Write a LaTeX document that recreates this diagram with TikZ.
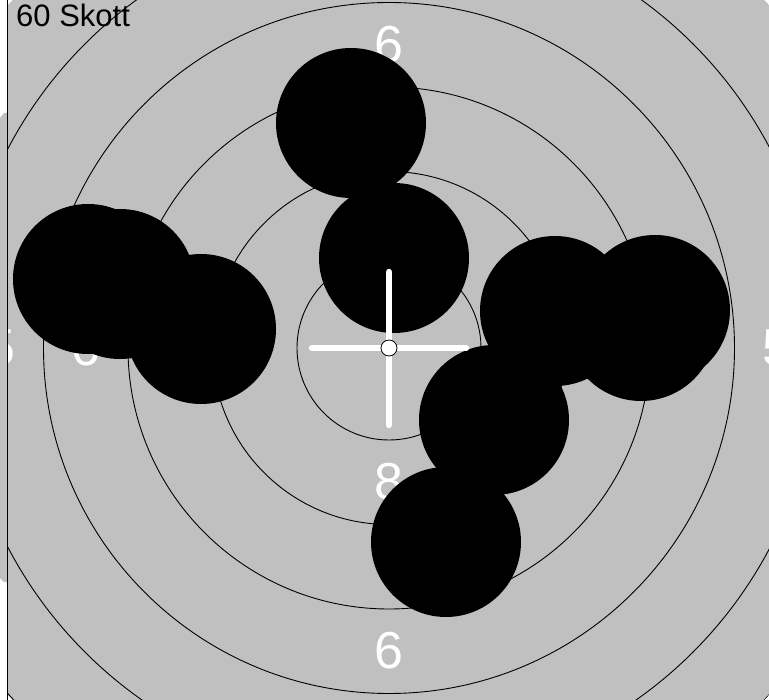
\documentclass[tikz,border=0pt]{standalone}
\usepackage{fontspec}
\setmainfont{Liberation Sans}
\definecolor{tgray}{HTML}{C0C0C0}
\begin{document}
\begin{tikzpicture}[x=1pt,y=-1pt,
  ring/.style={draw=black, line width=0.9pt},
  lbl/.style={text=white, font=\fontsize{52}{52}\selectfont, inner sep=0pt},
  shot/.style={fill=black},
  cross/.style={draw=white, line width=6.5pt, line cap=round}]
\useasboundingbox (0,0) rectangle (769,700);
\fill[white] (0,0) rectangle (769,700);
\fill[tgray] (0,118) -- (4,113) -- (7,113) -- (7,582) -- (4,582) -- (0,578) -- cycle;
\begin{scope}
\clip (8,5) -- (13,0) -- (764,0) -- (769,5) -- (769,695) -- (764,700) -- (13,700) -- (8,695) -- cycle;
\fill[tgray] (0,0) rectangle (769,700);
\coordinate (c) at (389,348);
\foreach \r in {92,176.5,261,345.5,430,514.5}
  \draw[ring] (c) circle[radius=\r pt];
\foreach \d/\t in {134/8,219/7,303/6}{
  \node[lbl] (t\t) at (389,348-\d) {\t};
  \node[lbl] (b\t) at (389,348+\d) {\t};
  \node[lbl] (l\t) at (389-\d,348) {\t};
  \node[lbl] (r\t) at (389+\d,348) {\t};
}
\node[lbl] (l5) at (389-388,348) {5};
\node[lbl] (r5) at (389+388,348) {5};
\foreach \x/\y in {351/123, 394/258, 88/279, 120/284, 201/329, 555/311, 655/310, 641/326, 494/420, 446/542}
  \fill[shot] (\x,\y) circle[radius=75pt];
\node[anchor=north west, inner sep=0pt, font=\fontsize{31}{31}\selectfont] (title) at (16,4) {60 Skott};
\end{scope}
\draw[line width=1.3pt] (7.5,0) -- (7.5,700);
\coordinate (hl) at (312,348);
\coordinate (hr) at (466,348);
\coordinate (vt) at (389,272);
\coordinate (vb) at (389,425);
\draw[cross] (hl) -- (hr);
\draw[cross] (vt) -- (vb);
\node[circle, fill=white, draw=black, line width=0.8pt, minimum size=16pt, inner sep=0pt] (ctr) at (c) {};
\end{tikzpicture}
\end{document}
